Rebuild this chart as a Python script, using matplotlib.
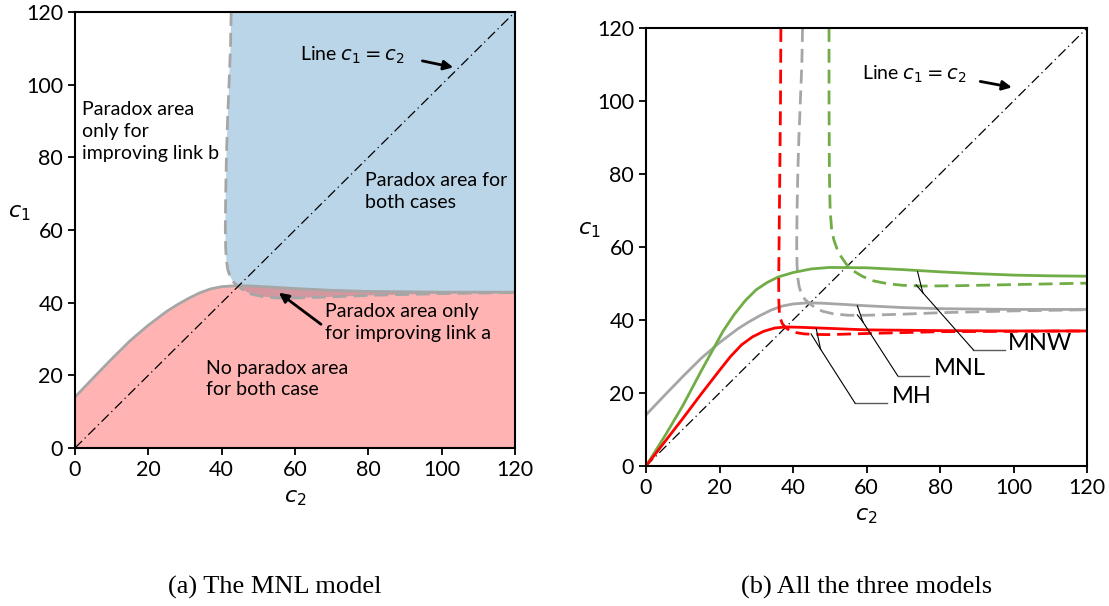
import numpy as np
import matplotlib
matplotlib.use("Agg")
import matplotlib.pyplot as plt

plt.rcParams["font.family"] = ["Lato", "DejaVu Sans"]
plt.rcParams["mathtext.fontset"] = "dejavusans"

# MNL model: solid boundary (paradox when improving link a) and dashed one (link b)
mnl_solid_c2 = [0, 5, 10, 15, 20, 25, 28, 31, 34, 37, 40, 44, 48, 55, 60, 70, 80, 90, 100, 110, 120]
mnl_solid_c1 = [14, 19.3, 24.5, 29.5, 33.8, 37.6, 39.5, 41.2, 42.7, 43.8, 44.4, 44.7, 44.6, 44.2, 43.9,
                43.4, 43.1, 43.0, 42.9, 42.9, 42.9]
mnl_dash_c2 = [42.6, 42.4, 42.0, 41.6, 41.3, 41.1, 41.0, 41.1, 41.3, 41.7, 42.3, 43.2, 44.5, 46, 48,
               51, 55, 60, 70, 80, 100, 120]
mnl_dash_c1 = [120, 110, 100, 90, 80, 70, 60, 55, 51.5, 49, 47.2, 45.7, 44.5, 43.4, 42.4,
               41.7, 41.3, 41.3, 41.6, 42.0, 42.5, 42.8]

# MH model
mh_solid_c2 = [0, 5, 10, 15, 20, 23, 26, 29, 32, 35, 38, 42, 50, 60, 80, 100, 120]
mh_solid_c1 = [0, 6.5, 13, 19.7, 26.2, 30, 33.2, 35.4, 36.9, 37.8, 38.1, 38.0, 37.7, 37.3, 37.1, 37.0, 37.0]
mh_dash_c2 = [36.7, 36.6, 36.4, 36.2, 36.1, 36.15, 36.3, 36.6, 37.1, 37.9, 39, 40.5, 43, 46, 50, 60, 80, 120]
mh_dash_c1 = [120, 100, 80, 60, 50, 45, 42, 40.3, 39, 38, 37.2, 36.6, 36.2, 36.05, 36.0, 36.3, 36.8, 37.0]

# MNW model
mnw_solid_c2 = [0, 5, 10, 15, 18, 21, 24, 27, 30, 33, 36, 40, 45, 50, 60, 70, 80, 90, 100, 110, 120]
mnw_solid_c1 = [0, 8, 16.5, 26, 31.5, 37, 41.5, 45.3, 48.3, 50.3, 51.8, 53, 54, 54.4, 54.3, 53.8,
                53.2, 52.7, 52.3, 52.1, 52.0]
mnw_dash_c2 = [49.8, 49.8, 49.9, 50.1, 50.5, 51.1, 51.9, 53, 54.5, 56.5, 59, 62, 66, 70, 75, 85, 100, 120]
mnw_dash_c1 = [120, 100, 80, 70, 65, 62, 59.7, 57.5, 55.3, 53.4, 51.9, 50.7, 49.9, 49.5, 49.3, 49.4, 49.7, 50.1]

ticks = [0, 20, 40, 60, 80, 100, 120]
gray = "#a6a6a6"
green = "#70ad47"
red = "#ff0000"
dash = (0, (5, 2.5))
dashdot = (0, (8, 3, 1, 3))

fig = plt.figure(figsize=(11.09, 6.06), dpi=100)
ax1 = fig.add_axes([0.0676, 0.2607, 0.3968, 0.7195])
ax2 = fig.add_axes([0.5825, 0.2310, 0.3977, 0.7228])


def style(ax):
    ax.set_xlim(0, 120)
    ax.set_ylim(0, 120)
    ax.set_xticks(ticks)
    ax.set_yticks(ticks)
    ax.tick_params(direction="out", length=5, width=1.3, labelsize=15.5)
    for s in ax.spines.values():
        s.set_linewidth(1.5)
    ax.set_xlabel("$c_2$", fontsize=16, labelpad=6)
    ax.set_ylabel("$c_1$", fontsize=16, rotation=0)
    ax.yaxis.set_label_coords(-0.128, 0.515)


# ---- (a) MNL regions
style(ax1)
ax1.yaxis.set_label_coords(-0.127, 0.515)
ax1.fill_between(mnl_solid_c2, mnl_solid_c1, 0, color="#ffb3b3", lw=0)
ax1.fill(mnl_dash_c2 + [120, 120], mnl_dash_c1 + [120, 120], color="#bbd5e8", lw=0)
k = mnl_dash_c2.index(44.5)
j = mnl_solid_c2.index(44)
mauve_x = mnl_dash_c2[k:] + mnl_solid_c2[j:][::-1]
mauve_y = mnl_dash_c1[k:] + mnl_solid_c1[j:][::-1]
ax1.fill(mauve_x, mauve_y, color="#d4979f", lw=0)
ax1.plot(mnl_solid_c2, mnl_solid_c1, color=gray, lw=2)
ax1.plot(mnl_dash_c2, mnl_dash_c1, color=gray, lw=2, ls=dash)
ax1.plot([0, 120], [0, 120], color="k", lw=0.9, ls=dashdot)

txt = dict(fontsize=14, linespacing=1.35, va="center", ha="left")
ax1.text(1.9, 87.1, "Paradox area\nonly for\nimproving link b", **txt)
ax1.text(79, 70.5, "Paradox area for\nboth cases", **txt)
ax1.text(68.1, 34.5, "Paradox area only\nfor improving link a", **txt)
ax1.text(35.7, 19, "No paradox area\nfor both case", **txt)
ax1.text(61.3, 108.2, "Line $c_1=c_2$", fontsize=14, va="center")
arrow = dict(arrowstyle="-|>", color="k", lw=2, mutation_scale=14)
ax1.annotate("", xy=(103.9, 104.6), xytext=(94, 106.7), arrowprops=arrow)
ax1.annotate("", xy=(55, 43.2), xytext=(67.7, 33.6), arrowprops=arrow)

# ---- (b) three models
style(ax2)
ax2.plot([0, 120], [0, 120], color="k", lw=0.9, ls=dashdot)
ax2.plot(mnl_solid_c2, mnl_solid_c1, color=gray, lw=2)
ax2.plot(mnl_dash_c2, mnl_dash_c1, color=gray, lw=2, ls=dash)
ax2.plot(mnw_solid_c2, mnw_solid_c1, color=green, lw=2)
ax2.plot(mnw_dash_c2, mnw_dash_c1, color=green, lw=2, ls=dash)
ax2.plot(mh_solid_c2, mh_solid_c1, color=red, lw=2)
ax2.plot(mh_dash_c2, mh_dash_c1, color=red, lw=2, ls=dash)

ax2.text(58.7, 107.4, "Line $c_1=c_2$", fontsize=14, va="center")
ax2.annotate("", xy=(100.3, 103.6), xytext=(90.2, 105.5), arrowprops=arrow)

# leader lines: (label, label pos, elbow start, elbow, apex, solid tip, dashed tip)
leaders = [
    ("MNW", (98.5, 33.6), (97.7, 31.8), (89.1, 31.8), (75.3, 47.5), (73.9, 53.2), (73.5, 49.6)),
    ("MNL", (78.2, 26.8), (77.1, 24.7), (68.5, 24.7), (59.0, 39.5), (57.5, 43.9), (57.5, 41.4)),
    ("MH", (66.9, 19.0), (65.5, 17.2), (56.9, 17.2), (47.5, 32.0), (46.3, 37.7), (44.9, 36.2)),
]
for name, tp, p0, p1, apex, ts, td in leaders:
    ax2.plot([p0[0], p1[0]], [p0[1], p1[1]], color="#595959", lw=1)
    ax2.plot([p1[0], apex[0]], [p1[1], apex[1]], color="k", lw=0.8)
    ax2.plot([apex[0], ts[0]], [apex[1], ts[1]], color="k", lw=0.8)
    ax2.plot([apex[0], td[0]], [apex[1], td[1]], color="k", lw=0.8)
    ax2.text(tp[0], tp[1], name, fontsize=17, va="center")

fig.text(0.2475, 0.031, "(a) The MNL model", family="Liberation Serif", fontsize=19,
         ha="center", va="center")
fig.text(0.781, 0.031, "(b) All the three models", family="Liberation Serif", fontsize=19,
         ha="center", va="center")

fig.savefig("out.png", dpi=100)
